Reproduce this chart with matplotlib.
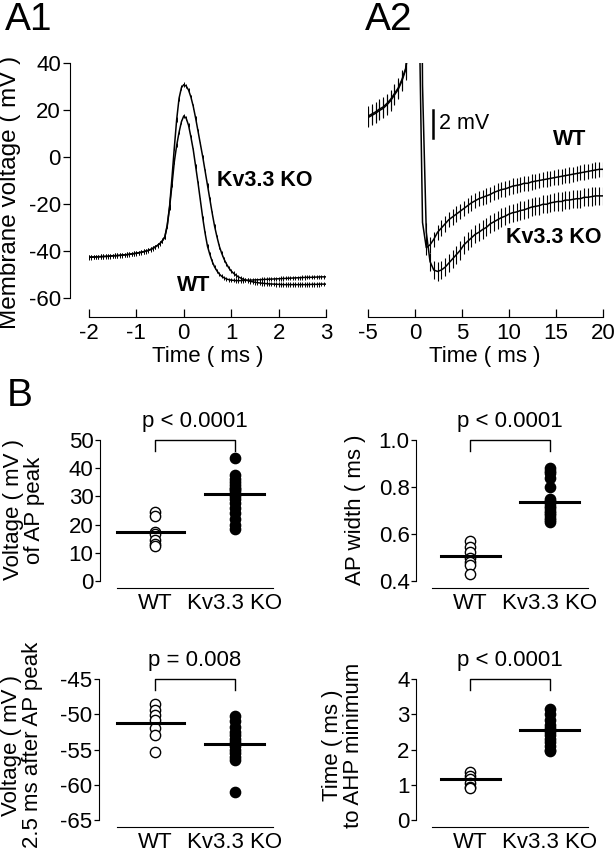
import numpy as np
import matplotlib
matplotlib.use('Agg')
import matplotlib.pyplot as plt
import matplotlib.transforms as mtransforms

plt.rcParams['font.family'] = ['Liberation Sans', 'DejaVu Sans']
plt.rcParams['axes.unicode_minus'] = False

W, H = 616, 852

# A1: average AP (mV), sampled every 0.05 ms from -2 to 3 ms
a1_time = np.round(np.linspace(-2.0, 3.0, 101), 2)
a1_wt = [-42.6, -42.55, -42.5, -42.45, -42.4, -42.35, -42.3, -42.25, -42.2, -42.1,
         -42.0, -41.95, -41.9, -41.8, -41.7, -41.6, -41.5, -41.35, -41.2, -41.05,
         -40.9, -40.7, -40.5, -40.25, -40.0, -39.7, -39.3, -38.8, -38.2, -37.5,
         -36.7, -35.6, -34.0, -29.5, -21.5, -12.0, -2.0, 5.0, 10.5, 15.0,
         17.5, 16.5, 13.5, 8.5, 3.0, -4.0, -11.0, -18.5, -26.0, -32.5,
         -38.0, -41.5, -44.5, -46.8, -48.5, -49.8, -50.8, -51.4, -51.9, -52.2,
         -52.4, -52.5, -52.6, -52.6, -52.6, -52.55, -52.5, -52.45, -52.4, -52.35,
         -52.3, -52.25, -52.2, -52.15, -52.1, -52.05, -52.0, -51.95, -51.9, -51.85,
         -51.8, -51.75, -51.7, -51.65, -51.6, -51.55, -51.5, -51.45, -51.4, -51.35,
         -51.3, -51.25, -51.2, -51.2, -51.2, -51.15, -51.1, -51.05, -51.0, -51.0,
         -51.0]
a1_ko = [-42.7, -42.65, -42.6, -42.55, -42.5, -42.45, -42.4, -42.35, -42.3, -42.2,
         -42.1, -42.05, -42.0, -41.9, -41.8, -41.7, -41.6, -41.45, -41.3, -41.15,
         -41.0, -40.8, -40.6, -40.35, -40.1, -39.8, -39.4, -38.9, -38.3, -37.6,
         -36.8, -35.6, -34.0, -29.0, -21.0, -9.0, 4.0, 16.0, 25.0, 29.5,
         30.8, 30.2, 28.5, 25.5, 21.5, 16.5, 11.0, 5.5, 0.0, -6.0,
         -12.0, -18.0, -24.0, -29.5, -34.0, -38.0, -41.0, -43.5, -45.5, -47.2,
         -48.5, -49.5, -50.3, -51.0, -51.5, -52.0, -52.3, -52.6, -52.9, -53.1,
         -53.3, -53.45, -53.6, -53.7, -53.8, -53.9, -54.0, -54.05, -54.1, -54.15,
         -54.2, -54.25, -54.3, -54.3, -54.3, -54.3, -54.3, -54.3, -54.3, -54.3,
         -54.3, -54.3, -54.3, -54.25, -54.2, -54.2, -54.2, -54.15, -54.1, -54.1,
         -54.1]
a1_wt_sem = 0.9
a1_ko_sem = 1.0

# A2: same traces on a longer time base, zoomed on the AHP
a2_time = np.round(np.concatenate([np.arange(-5.0, -0.5, 0.4), [0.0, 0.5, 0.8],
                                   np.arange(1.2, 20.01, 0.4)]), 2)
a2_wt = [-43.2, -43.05, -42.9, -42.7, -42.55, -42.3, -42.0, -41.6, -41.2, -40.6,
         -39.8, -37.8,
         17.5, -38.0, -50.8,
         -52.6, -52.4, -52.0, -51.5, -51.2, -50.9, -50.6, -50.4, -50.2, -50.0,
         -49.8, -49.6, -49.4, -49.25, -49.1, -49.0, -48.9, -48.8, -48.65, -48.55,
         -48.45, -48.4, -48.3, -48.2, -48.15, -48.1, -48.0, -48.0, -47.9, -47.85,
         -47.8, -47.75, -47.7, -47.65, -47.6, -47.55, -47.5, -47.45, -47.4, -47.35,
         -47.3, -47.25, -47.2, -47.15, -47.1, -47.05, -47.0, -47.0]
a2_ko = [-43.3, -43.15, -43.0, -42.8, -42.65, -42.4, -42.1, -41.7, -41.3, -40.7,
         -39.9, -37.9,
         30.8, -12.0, -41.0,
         -51.5, -53.6, -54.2, -54.3, -54.2, -54.0, -53.7, -53.4, -53.1, -52.8,
         -52.4, -52.15, -51.9, -51.65, -51.5, -51.3, -51.15, -50.9, -50.75, -50.6,
         -50.45, -50.35, -50.2, -50.1, -50.05, -49.95, -49.9, -49.8, -49.7, -49.65,
         -49.6, -49.5, -49.5, -49.4, -49.35, -49.3, -49.3, -49.2, -49.2, -49.15,
         -49.1, -49.1, -49.0, -49.0, -48.95, -48.9, -48.9, -48.9]
a2_sem_pre = 0.7
a2_wt_sem = 0.55
a2_ko_sem = 0.65

# B: individual cells and group means
groups = ['WT', 'Kv3.3 KO']
peak_wt = [24.5, 23.0, 17.5, 16.5, 14.5, 13.0, 12.5]
peak_ko = [43.5, 37.5, 36.0, 35.0, 34.0, 33.0, 32.5, 32.0, 31.0, 30.0,
           29.0, 27.5, 26.0, 24.0, 22.0, 20.0, 18.5]
peak_mean = [17.4, 30.8]
width_wt = [0.57, 0.545, 0.525, 0.50, 0.48, 0.47, 0.43]
width_ko = [0.88, 0.87, 0.86, 0.84, 0.80, 0.75, 0.74, 0.73, 0.72, 0.71,
            0.70, 0.69, 0.68, 0.67, 0.66, 0.65]
width_mean = [0.505, 0.737]
v25_wt = [-48.6, -49.4, -50.1, -50.8, -52.0, -52.9, -55.3]
v25_ko = [-50.2, -51.0, -51.8, -52.5, -53.0, -53.5, -54.0, -54.5, -55.0,
          -55.5, -56.0, -56.5, -61.0]
v25_mean = [-51.3, -54.2]
ahp_wt = [1.35, 1.25, 1.15, 1.05, 0.95, 0.9]
ahp_ko = [3.15, 3.0, 2.85, 2.7, 2.6, 2.5, 2.4, 2.3, 2.2, 2.1, 2.0, 1.95]
ahp_mean = [1.15, 2.55]


def rect(x0, y0, x1, y1):
    return [x0 / W, 1 - y1 / H, (x1 - x0) / W, (y1 - y0) / H]


def pt(px):
    return px * 72 / 100.0


def ftext(x, y, s, **kw):
    fig.text(x / W, 1 - y / H, s, **kw)


fig = plt.figure(figsize=(W / 100, H / 100), dpi=100, facecolor='w')
fs = 16

# ---- A1
ax = fig.add_axes(rect(89, 63, 326, 298))
for v, e in [(a1_wt, a1_wt_sem), (a1_ko, a1_ko_sem)]:
    ax.plot(a1_time, v, color='k', lw=1.1)
    ax.errorbar(a1_time, v, yerr=e, fmt='none', ecolor='k', elinewidth=0.7, capsize=0)
ax.set_xlim(-2, 3)
ax.set_ylim(-60, 40)
ax.set_xticks([-2, -1, 0, 1, 2, 3])
ax.set_yticks([-60, -40, -20, 0, 20, 40])
ax.spines['top'].set_visible(False)
ax.spines['right'].set_visible(False)
ax.spines['left'].set_position(('outward', pt(19)))
ax.spines['bottom'].set_position(('outward', pt(19)))
ax.tick_params(axis='y', direction='out', length=pt(7), width=0.9, pad=1.5, labelsize=fs)
ax.tick_params(axis='x', direction='in', length=pt(8), width=0.9, pad=4, labelsize=fs)
ax.text(0.70, -9.8, 'Kv3.3 KO', fontweight='bold', fontsize=15.5, va='center', ha='left')
ax.text(0.215, -54.5, 'WT', fontweight='bold', fontsize=15.5, va='center', ha='center')

# ---- A2
ax = fig.add_axes(rect(368, 63, 603, 298))
pre = a2_time <= -1.0
post = a2_time >= 1.2
for v, e in [(a2_wt, a2_wt_sem), (a2_ko, a2_ko_sem)]:
    v = np.array(v)
    ax.plot(a2_time, v, color='k', lw=1.1)
    ax.errorbar(a2_time[pre], v[pre], yerr=a2_sem_pre, fmt='none', ecolor='k', elinewidth=0.8, capsize=0)
    ax.errorbar(a2_time[post], v[post], yerr=e, fmt='none', ecolor='k', elinewidth=0.8, capsize=0)
ax.set_xlim(-5, 20)
ax.set_ylim(-56.2, -39.4)
ax.set_xticks([-5, 0, 5, 10, 15, 20])
ax.set_yticks([])
for s in ['top', 'right', 'left']:
    ax.spines[s].set_visible(False)
ax.spines['bottom'].set_position(('outward', pt(19)))
ax.tick_params(axis='x', direction='in', length=pt(8), width=0.9, pad=4, labelsize=fs)
ax.plot([1.9, 1.9], [-44.76, -42.76], color='k', lw=1.8)
ax.text(2.6, -43.76, '2 mV', fontsize=15.5, va='center', ha='left')
ax.text(16.44, -44.9, 'WT', fontweight='bold', fontsize=15.5, va='center', ha='center')
ax.text(14.73, -51.9, 'Kv3.3 KO', fontweight='bold', fontsize=15.5, va='center', ha='center')

ftext(208, 356, 'Time ( ms )', fontsize=fs, ha='center', va='center')
ftext(485, 356, 'Time ( ms )', fontsize=fs, ha='center', va='center')
ftext(10, 192, 'Membrane voltage ( mV )', fontsize=17.5, ha='center', va='center', rotation=90)


# ---- B
def dot_panel(box, wt, ko, means, ylim, yticks, ptext, left_off, wt_span):
    ax = fig.add_axes(rect(*box))
    ax.plot(np.zeros(len(wt)), wt, 'o', mfc='white', mec='k', ms=7.4, mew=1.0, clip_on=False)
    ax.plot(np.ones(len(ko)), ko, 'o', mfc='k', mec='k', ms=7.4, mew=1.0, clip_on=False)
    ax.plot(wt_span, [means[0]] * 2, color='k', lw=2.2, clip_on=False)
    ax.plot([1 - 0.37, 1 + 0.37], [means[1]] * 2, color='k', lw=2.2, clip_on=False)
    ax.set_xlim(-0.48, 1.48)
    ax.set_ylim(*ylim)
    ax.set_yticks(yticks)
    ax.set_xticks([0, 1])
    ax.set_xticklabels(groups)
    ax.spines['top'].set_visible(False)
    ax.spines['right'].set_visible(False)
    ax.spines['left'].set_position(('outward', pt(left_off)))
    ax.spines['bottom'].set_position(('outward', pt(7)))
    ax.tick_params(axis='y', direction='out', length=pt(5), width=0.9, pad=1, labelsize=fs)
    ax.tick_params(axis='x', length=0, pad=3.5, labelsize=fs)
    tr = mtransforms.blended_transform_factory(ax.transData, ax.transAxes)
    ax.plot([0, 0, 1, 1], [0.92, 1, 1, 0.92], color='k', lw=1.0, transform=tr, clip_on=False)
    ax.text(0.5, 1.13, ptext, fontsize=fs, ha='center', va='center', transform=tr)
    return ax


dot_panel((117, 440, 273, 581), peak_wt, peak_ko, peak_mean, (0, 50), [0, 10, 20, 30, 40, 50],
          'p < 0.0001', 17, [-0.475, 0.36])
dot_panel((432, 440, 588, 581), width_wt, width_ko, width_mean, (0.4, 1.0), [0.4, 0.6, 0.8, 1.0],
          'p < 0.0001', 16, [-0.37, 0.37])
dot_panel((117, 679, 273, 820), v25_wt, v25_ko, v25_mean, (-65, -45), [-65, -60, -55, -50, -45],
          'p = 0.008', 18, [-0.475, 0.36])
dot_panel((432, 679, 588, 820), ahp_wt, ahp_ko, ahp_mean, (0, 4), [0, 1, 2, 3, 4],
          'p < 0.0001', 16, [-0.37, 0.37])

ftext(24, 510, 'Voltage ( mV )\nof AP peak', fontsize=fs, ha='center', va='center',
      rotation=90, multialignment='center', linespacing=1.05)
ftext(356, 510, 'AP width ( ms )', fontsize=fs, ha='center', va='center', rotation=90)
ftext(22, 745, 'Voltage ( mV )\n2.5 ms after AP peak', fontsize=fs, ha='center', va='center',
      rotation=90, multialignment='center', linespacing=1.05)
ftext(343, 745, 'Time ( ms )\nto AHP minimum', fontsize=fs, ha='center', va='center',
      rotation=90, multialignment='center', linespacing=1.05)

# panel letters
ftext(5, 2, 'A1', fontsize=28, ha='left', va='top')
ftext(365, 2, 'A2', fontsize=28, ha='left', va='top')
ftext(7, 378, 'B', fontsize=28, ha='left', va='top')

fig.savefig('out.png', dpi=100)
